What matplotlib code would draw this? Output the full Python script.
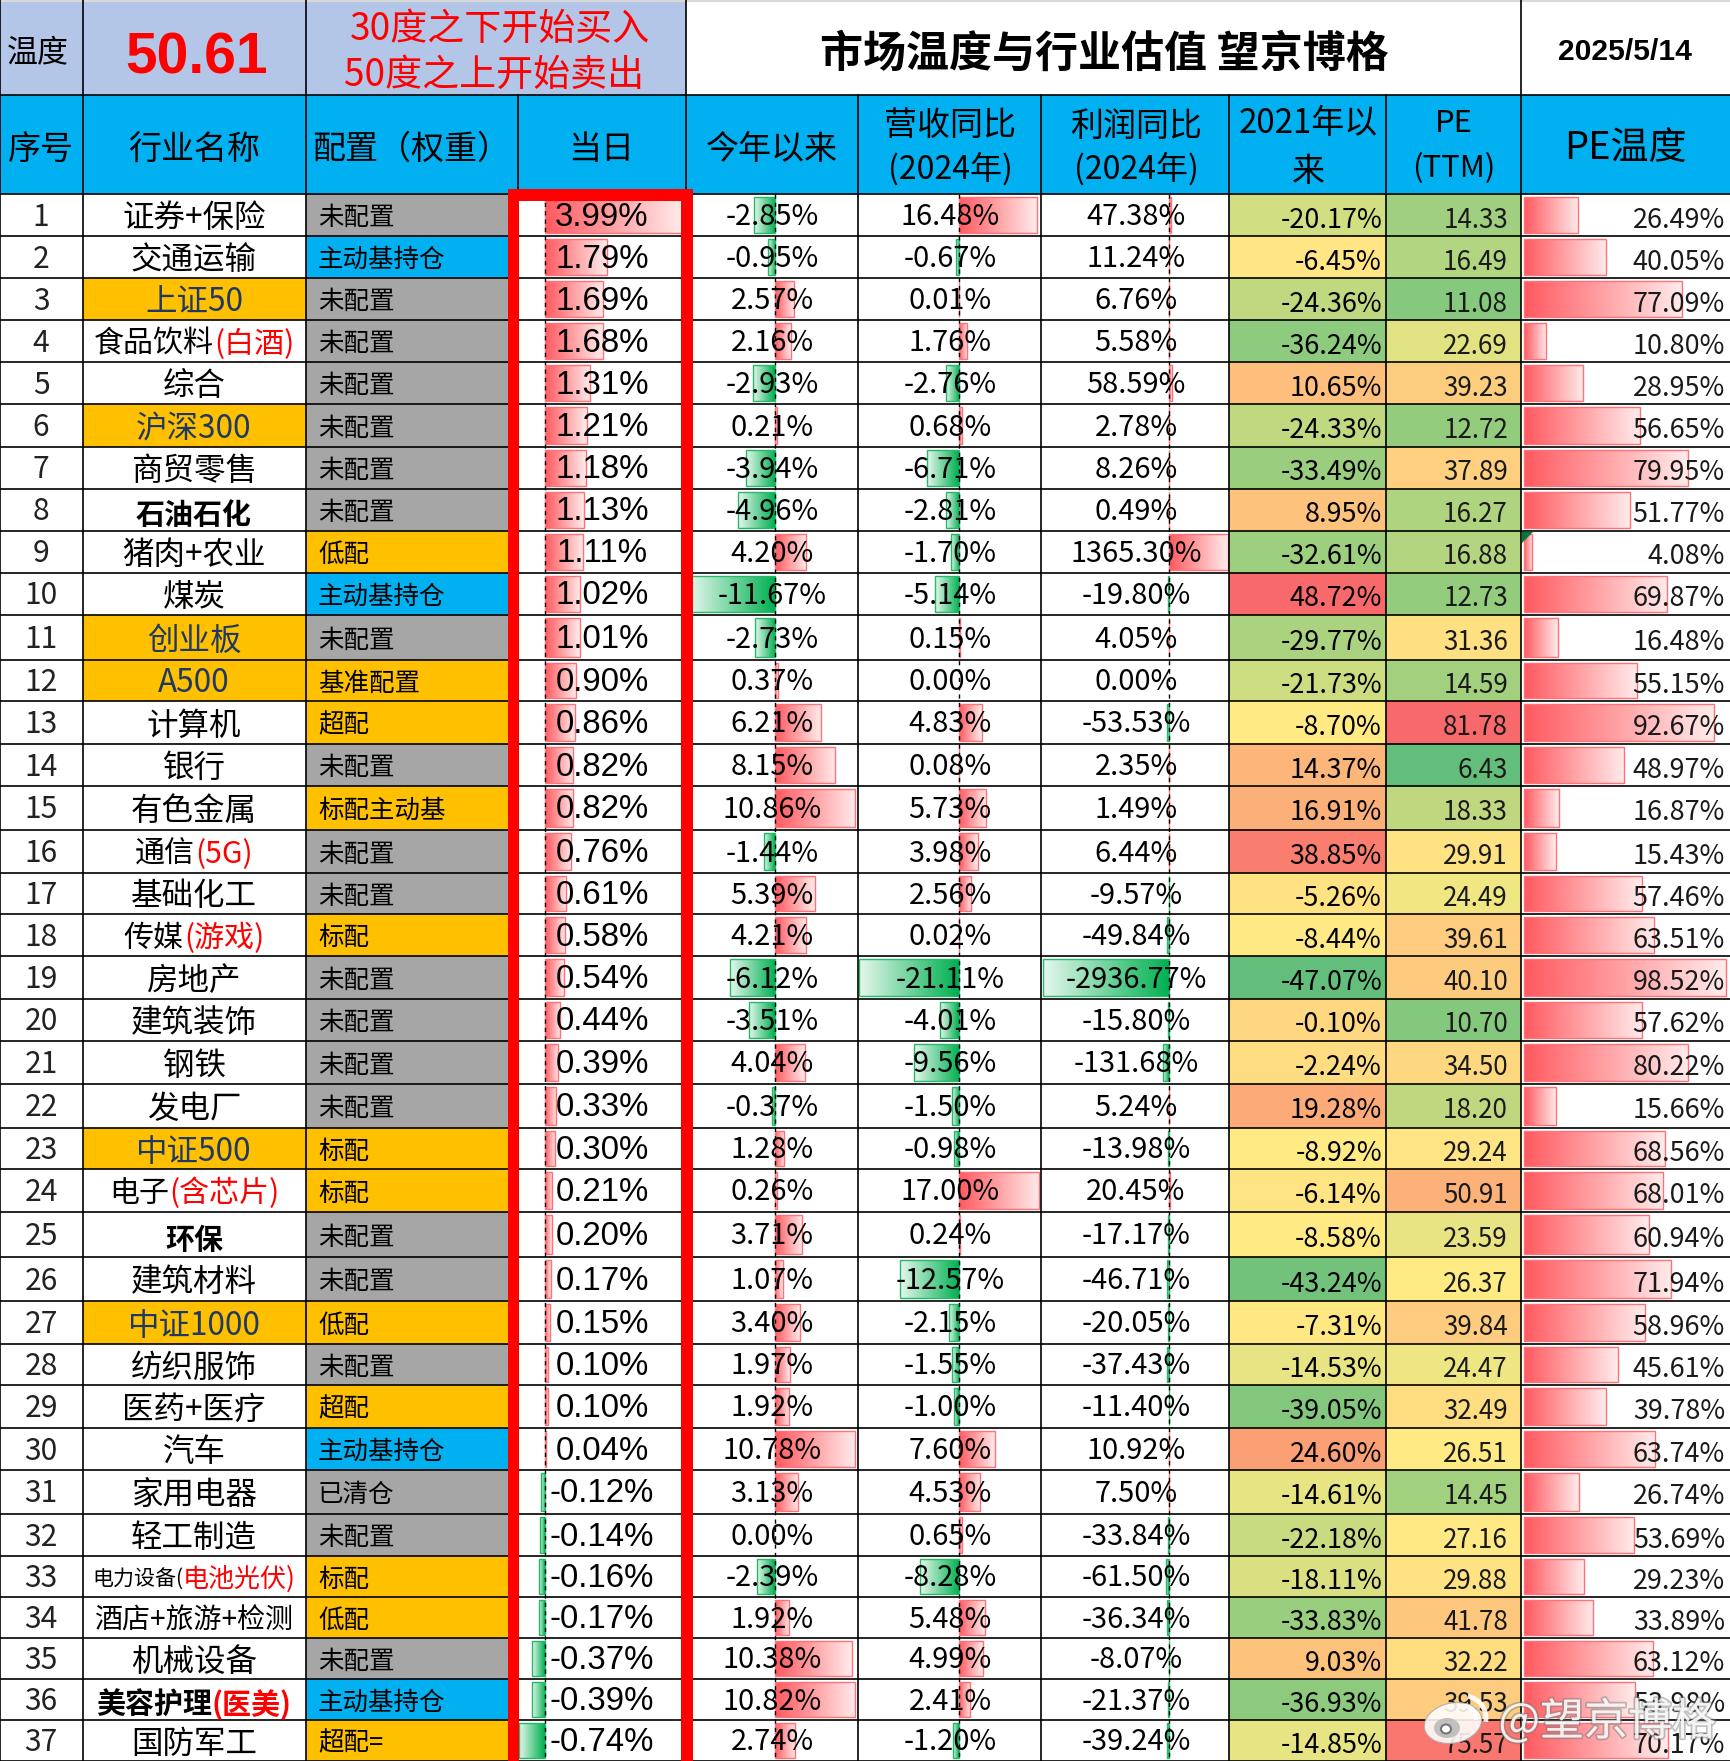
import numpy as np
import matplotlib
matplotlib.use('Agg')
import matplotlib.pyplot as plt
from matplotlib.colors import LinearSegmentedColormap, TwoSlopeNorm, to_rgb
from matplotlib.patches import Rectangle, Ellipse, Arc, Polygon
import matplotlib.patheffects as pe

# ---- data ----
seq = list(range(1, 38))
name_main = ['证券+保险', '交通运输', '上证50', '食品饮料', '综合', '沪深300', '商贸零售', '石油石化', '猪肉+农业', '煤炭',
             '创业板', 'A500', '计算机', '银行', '有色金属', '通信', '基础化工', '传媒', '房地产', '建筑装饰',
             '钢铁', '发电厂', '中证500', '电子', '环保', '建筑材料', '中证1000', '纺织服饰', '医药+医疗', '汽车',
             '家用电器', '轻工制造', '电力设备(', '酒店+旅游+检测', '机械设备', '美容护理', '国防军工']
name_red = ['', '', '', '(白酒)', '', '', '', '', '', '',
            '', '', '', '', '', '(5G)', '', '(游戏)', '', '',
            '', '', '', '(含芯片)', '', '', '', '', '', '',
            '', '', '电池光伏)', '', '', '(医美)', '']
index_names = ['上证50', '沪深300', '创业板', 'A500', '中证500', '中证1000']
bold_names = ['石油石化', '环保', '美容护理']
config = ['未配置', '主动基持仓', '未配置', '未配置', '未配置', '未配置', '未配置', '未配置', '低配', '主动基持仓',
          '未配置', '基准配置', '超配', '未配置', '标配主动基', '未配置', '未配置', '标配', '未配置', '未配置',
          '未配置', '未配置', '标配', '标配', '未配置', '未配置', '低配', '未配置', '超配', '主动基持仓',
          '已清仓', '未配置', '标配', '低配', '未配置', '主动基持仓', '超配=']
today = [3.99, 1.79, 1.69, 1.68, 1.31, 1.21, 1.18, 1.13, 1.11, 1.02, 1.01, 0.90, 0.86, 0.82, 0.82, 0.76, 0.61, 0.58, 0.54,
         0.44, 0.39, 0.33, 0.30, 0.21, 0.20, 0.17, 0.15, 0.10, 0.10, 0.04, -0.12, -0.14, -0.16, -0.17, -0.37, -0.39, -0.74]
ytd = [-2.85, -0.95, 2.57, 2.16, -2.93, 0.21, -3.94, -4.96, 4.20, -11.67, -2.73, 0.37, 6.21, 8.15, 10.86, -1.44, 5.39, 4.21, -6.12,
       -3.51, 4.04, -0.37, 1.28, 0.26, 3.71, 1.07, 3.40, 1.97, 1.92, 10.78, 3.13, 0.00, -2.39, 1.92, 10.38, 10.82, 2.74]
revenue = [16.48, -0.67, 0.01, 1.76, -2.76, 0.68, -6.71, -2.81, -1.70, -5.14, 0.15, 0.00, 4.83, 0.08, 5.73, 3.98, 2.56, 0.02, -21.11,
           -4.01, -9.56, -1.50, -0.98, 17.00, 0.24, -12.57, -2.15, -1.55, -1.00, 7.60, 4.53, 0.65, -8.28, 5.48, 4.99, 2.41, -1.20]
profit = [47.38, 11.24, 6.76, 5.58, 58.59, 2.78, 8.26, 0.49, 1365.30, -19.80, 4.05, 0.00, -53.53, 2.35, 1.49, 6.44, -9.57, -49.84, -2936.77,
          -15.80, -131.68, 5.24, -13.98, 20.45, -17.17, -46.71, -20.05, -37.43, -11.40, 10.92, 7.50, -33.84, -61.50, -36.34, -8.07, -21.37, -39.24]
since2021 = [-20.17, -6.45, -24.36, -36.24, 10.65, -24.33, -33.49, 8.95, -32.61, 48.72, -29.77, -21.73, -8.70, 14.37, 16.91, 38.85, -5.26, -8.44, -47.07,
             -0.10, -2.24, 19.28, -8.92, -6.14, -8.58, -43.24, -7.31, -14.53, -39.05, 24.60, -14.61, -22.18, -18.11, -33.83, 9.03, -36.93, -14.85]
pe_ttm = [14.33, 16.49, 11.08, 22.69, 39.23, 12.72, 37.89, 16.27, 16.88, 12.73, 31.36, 14.59, 81.78, 6.43, 18.33, 29.91, 24.49, 39.61, 40.10,
          10.70, 34.50, 18.20, 29.24, 50.91, 23.59, 26.37, 39.84, 24.47, 32.49, 26.51, 14.45, 27.16, 29.88, 41.78, 32.22, 39.53, 75.57]
pe_temp = [26.49, 40.05, 77.09, 10.80, 28.95, 56.65, 79.95, 51.77, 4.08, 69.87, 16.48, 55.15, 92.67, 48.97, 16.87, 15.43, 57.46, 63.51, 98.52,
           57.62, 80.22, 15.66, 68.56, 68.01, 60.94, 71.94, 58.96, 45.61, 39.78, 63.74, 26.74, 53.69, 29.23, 33.89, 63.12, 53.98, 70.17]

# ---- layout, in image pixels ----
W, H = 1730, 1761
col_x = [0, 83, 306, 518, 686, 858, 1041, 1229, 1386, 1521, 1730]
row_y = [194, 236, 278, 320, 362, 404, 447, 489, 531, 573, 615, 660, 701, 744, 786, 830, 873, 914, 956, 999,
         1041, 1084, 1128, 1169, 1212, 1257, 1301, 1344, 1385, 1428, 1470, 1514, 1556, 1597, 1638, 1679, 1720, 1761]
top_h = 95

CJK = ['Noto Sans CJK SC', 'DejaVu Sans']
REG = ['Liberation Sans', 'Noto Sans CJK SC']

GREY = '#A6A6A6'
BLUE = '#00B0F0'
GOLD = '#FFC000'
TOPBLUE = '#B4C6E7'
INDEXTXT = '#1F3864'


def px(size):
    return size * 0.72


fig = plt.figure(figsize=(W / 100, H / 100), dpi=100)
ax = fig.add_axes([0, 0, 1, 1])
ax.axis('off')
renderer = fig.canvas.get_renderer()


def fill(x0, x1, y0, y1, color, z=1):
    ax.add_patch(Rectangle((x0, y0), x1 - x0, y1 - y0, fc=color, ec='none', zorder=z))


def grad_bar(x0, x1, y0, y1, color):
    # gradient starts strong at the zero line and fades to the bar end
    c = np.array(to_rgb(color))
    t = np.linspace(0, 1, 128)[:, None]
    end = np.array([1.0, 0.92, 0.92]) if color != '#00B050' else np.array([0.9, 0.97, 0.93])
    g = (c * (1 - t) + end * t)[None, :, :]
    if x1 < x0:
        g = g[:, ::-1, :]
        x0, x1 = x1, x0
    ax.imshow(g, extent=(x0, x1, y1, y0), aspect='auto', interpolation='bilinear', zorder=2)
    edge = '#FF7378' if color != '#00B050' else '#27B869'
    ax.add_patch(Rectangle((x0, y0), x1 - x0, y1 - y0, fc='none', ec=edge, lw=1.0, zorder=2.5))


def data_bars(values, zero, scale):
    for i, v in enumerate(values):
        if v == 0:
            continue
        grad_bar(zero, zero + v * scale, row_y[i] + 3, row_y[i + 1] - 3, '#FF5A60' if v > 0 else '#00B050')


def name_text(main, red, xc, y, size, red_size, weight, color):
    fp = dict(fontfamily=CJK, fontweight=weight, va='center', ha='left', zorder=5)
    t1 = ax.text(0, y, main, color=color, fontsize=px(size), **fp)
    t2 = ax.text(0, y, red, color='#FF0000', fontsize=px(red_size), **fp)
    w1 = t1.get_window_extent(renderer).width
    w2 = t2.get_window_extent(renderer).width if red else 0
    left = xc - (w1 + w2) / 2
    t1.set_x(left)
    t2.set_x(left + w1)


def num_text(x, y, s, size, ha='center', color='black'):
    ax.text(x, y, s, fontfamily=CJK, fontweight='light', fontsize=px(size), ha=ha, va='center', color=color, zorder=5)


# ---- top band ----
fill(0, 686, 0, top_h, TOPBLUE)
ax.plot([0, W], [0.5, 0.5], color='#D9D9D9', lw=1.5, zorder=3)
ax.text(38, 53, '温度', fontfamily=CJK, fontsize=px(31), fontweight='medium', ha='center', va='center')
ax.text(197, 59, '50.61', fontfamily=REG, fontsize=px(57), fontweight='bold', color='#FF0000', ha='center', va='center')
ax.text(500, 29, '30度之下开始买入', fontfamily=CJK, fontsize=px(37), fontweight='medium', color='#FF0000', ha='center', va='center')
ax.text(494, 75, '50度之上开始卖出', fontfamily=CJK, fontsize=px(37), fontweight='medium', color='#FF0000', ha='center', va='center')
ax.text(1104, 54, '市场温度与行业估值 望京博格', fontfamily=CJK, fontsize=px(43), fontweight='bold', ha='center', va='center')
ax.text(1625, 52, '2025/5/14', fontfamily=REG, fontsize=px(30), fontweight='bold', ha='center', va='center')

# ---- header band ----
fill(0, W, top_h, row_y[0], BLUE)
head = [(41, 149, '序号', 33), (194, 149, '行业名称', 33), (411, 149, '配置（权重）', 33), (601, 149, '当日', 33), (772, 149, '今年以来', 33),
        (950, 126, '营收同比', 33), (950, 169, '(2024年)', 32), (1136, 126, '利润同比', 33), (1136, 169, '(2024年)', 32),
        (1308, 124, '2021年以', 33), (1308, 171, '来', 33), (1454, 124, 'PE', 31), (1454, 169, '(TTM)', 31), (1625, 149, 'PE温度', 38)]
for x, y, s, size in head:
    ax.text(x, y, s, fontfamily=CJK, fontweight='light', fontsize=px(size), ha='center', va='center', zorder=5)

# ---- table cells ----
cmap = LinearSegmentedColormap.from_list('excel3', ['#63BE7B', '#FFEB84', '#F8696B'])
norm_a = TwoSlopeNorm(vmin=min(since2021), vcenter=np.median(since2021), vmax=max(since2021))
norm_b = TwoSlopeNorm(vmin=min(pe_ttm), vcenter=np.median(pe_ttm), vmax=max(pe_ttm))

for i in range(37):
    y0, y1 = row_y[i], row_y[i + 1]
    ym = (y0 + y1) / 2
    is_index = name_main[i] in index_names
    if is_index:
        fill(col_x[1], col_x[2], y0, y1, GOLD)
    cfg_col = GREY if config[i] in ('未配置', '已清仓') else (BLUE if config[i] == '主动基持仓' else GOLD)
    fill(col_x[2], col_x[3], y0, y1, cfg_col)
    fill(col_x[7], col_x[8], y0, y1, cmap(norm_a(since2021[i])))
    fill(col_x[8], col_x[9], y0, y1, cmap(norm_b(pe_ttm[i])))

    num_text(41, ym + 2, str(seq[i]), 30, color='#222222')
    bold = name_main[i] in bold_names
    size, red_size = 31.5, 31.5
    if name_main[i].startswith('电力设备'):
        size, red_size = 21, 26
    elif '检测' in name_main[i]:
        size, red_size = 28, 28
    elif name_red[i]:
        size, red_size = 30, 30
    if bold:
        size, red_size = 29, 29
    name_text(name_main[i], name_red[i], 194, ym + (5 if bold else 3), size, red_size, 'bold' if bold else 'normal',
              INDEXTXT if is_index else 'black')
    ax.text(318, ym + 3, config[i], fontfamily=CJK, fontsize=px(25.5), ha='left', va='center', zorder=5)
    ax.text(602, ym + 2, '%.2f%%' % today[i], fontfamily=REG, fontsize=px(33), ha='center', va='center', zorder=5)
    num_text(772, ym + 2, '%.2f%%' % ytd[i], 29)
    num_text(950, ym + 2, '%.2f%%' % revenue[i], 29)
    num_text(1136, ym + 2, '%.2f%%' % profit[i], 29)
    num_text(1382, ym + 5, '%.2f%%' % since2021[i], 27, ha='right')
    num_text(1508, ym + 5, '%.2f' % pe_ttm[i], 26, ha='right', color='#1A1A1A')
    num_text(1725, ym + 5, '%.2f%%' % pe_temp[i], 27, ha='right', color='#1A1A1A')

# ---- data bars ----
data_bars(today, 545, 34.5)
data_bars(ytd, 775, 7.4)
data_bars(revenue, 959, 4.72)
data_bars(profit, 1169, 0.043)
for i, v in enumerate(pe_temp):
    grad_bar(1524, 1524 + v * 2.05, row_y[i] + 3, row_y[i + 1] - 3, '#FF5A60')
for zero in (545, 775, 959, 1169):
    ax.plot([zero, zero], [row_y[0], H], color='black', lw=1.0, ls=(0, (3, 3)), zorder=3)

# comment marker in the 4.08% cell
ax.add_patch(Polygon([(1522, row_y[8] + 1), (1533, row_y[8] + 1), (1522, row_y[8] + 12)], fc='#007A3D', ec='none', zorder=4))

# ---- grid ----
for y in row_y + [top_h]:
    ax.plot([0, W], [y, y], color='black', lw=1.2, zorder=3.5)
for x in col_x[:-1]:
    ax.plot([x, x], [top_h if x in (518, 858, 1041, 1229, 1386) else 0, H], color='black', lw=1.2, zorder=3.5)

# ---- red frame ----
fill(508, 693, 189, 201, '#FF0000', z=4)
fill(508, 519, 189, H, '#FF0000', z=4)
fill(681, 693, 189, H, '#FF0000', z=4)

# ---- watermark ----
halo = [pe.withStroke(linewidth=2.5, foreground='#777777', alpha=0.45)]
ax.text(1716, 1722, '@望京博格', fontfamily=CJK, fontsize=px(44), color='white', alpha=0.85, ha='right', va='center',
        zorder=6, path_effects=halo)
ax.add_patch(Ellipse((1453, 1723), 58, 40, angle=-12, fc='white', ec='#AAAAAA', lw=0.8, alpha=0.88, zorder=6))
ax.add_patch(Ellipse((1447, 1728), 26, 20, fc='#BBBBBB', ec='none', alpha=0.9, zorder=6.1))
ax.add_patch(Ellipse((1446, 1729), 10, 9, fc='#FFFFFF', ec='#777777', lw=1.5, zorder=6.2))
ax.add_patch(Arc((1464, 1718), 44, 44, theta1=-80, theta2=10, color='white', lw=3.5, alpha=0.9, zorder=6))
ax.add_patch(Arc((1464, 1718), 24, 24, theta1=-80, theta2=10, color='white', lw=3, alpha=0.9, zorder=6))

ax.set_xlim(0, W)
ax.set_ylim(H, 0)
fig.savefig('out.png', dpi=100, facecolor='white')
